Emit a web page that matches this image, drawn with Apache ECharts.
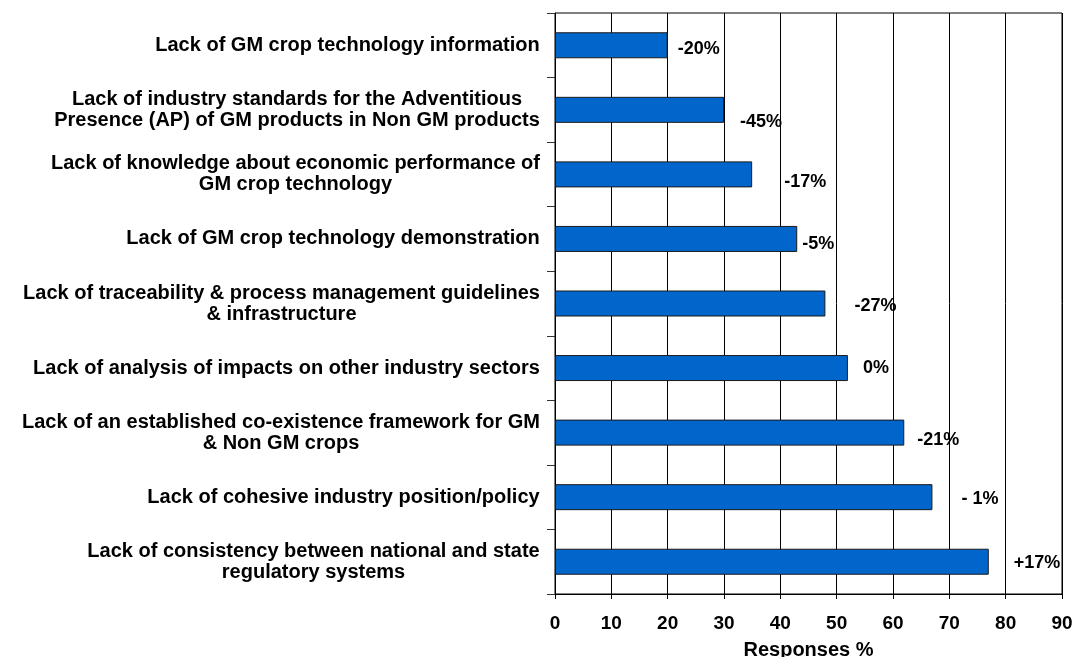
<!DOCTYPE html>
<html>
<head>
<meta charset="utf-8">
<script src="https://cdn.jsdelivr.net/npm/echarts@6/dist/echarts.min.js"></script>
<style>
	html, body { margin: 0; padding: 0; background: #fff; }
	#chart { width: 1075px; height: 657px; }
</style>
</head>
<body>
<div id="chart"></div>
<script>
var categories = [
	'Lack of GM crop technology information',
	'Lack of industry standards for the Adventitious\nPresence (AP) of GM products in Non GM products',
	'Lack of knowledge about economic performance of\nGM crop technology',
	'Lack of GM crop technology demonstration',
	'Lack of traceability & process management guidelines\n& infrastructure',
	'Lack of analysis of impacts on other industry sectors',
	'Lack of an established co-existence framework for GM\n& Non GM crops',
	'Lack of cohesive industry position/policy',
	'Lack of consistency between national and state\nregulatory systems'
];
var responses = [20, 30, 35, 43, 48, 52, 62, 67, 77];
var changes = ['-20%', '-45%', '-17%', '-5%', '-27%', '0%', '-21%', '- 1%', '+17%'];
var xTicks = [0, 10, 20, 30, 40, 50, 60, 70, 80, 90];

var FONT = '"Liberation Sans", Arial, sans-serif';
var catSize = 20;

// label nudges, as placed in the original
var labelOffsets = [[10, 4], [16, 12], [32, 8], [5, 5], [29, 3], [15, 0], [13, 7], [29, 2], [25, 1]];

// centre every line of a wrapped category inside its own block
var ctx = document.createElement('canvas').getContext('2d');
ctx.font = 'bold ' + catSize + 'px ' + FONT;
var rich = {};
categories.forEach(function(c, i){
	var w = 0;
	c.split('\n').forEach(function(line){
		w = Math.max(w, ctx.measureText(line).width);
	});
	rich['c' + i] = {
		width: Math.ceil(w),
		align: 'center',
		fontSize: catSize,
		fontWeight: 'bold',
		fontFamily: FONT,
		color: '#000',
		lineHeight: 21
	};
});

var chart = echarts.init(document.getElementById('chart'));

chart.setOption({
	animation: false,
	backgroundColor: '#fff',
	grid: {
		left: 555,
		right: 13,
		top: 13,
		bottom: 63,
		outerBoundsMode: 'none',
		containLabel: false,
		show: true,
		borderColor: '#000',
		borderWidth: 1
	},
	xAxis: {
		type: 'value',
		min: xTicks[0],
		max: xTicks[xTicks.length - 1],
		interval: 10,
		name: 'Responses %',
		nameLocation: 'middle',
		nameGap: 46,
		nameTextStyle: { fontFamily: FONT, fontSize: 20, fontWeight: 'bold', color: '#000' },
		axisLine: { show: true, lineStyle: { color: '#000', width: 1 } },
		axisTick: { show: true, length: 5, lineStyle: { color: '#000' } },
		axisLabel: { fontFamily: FONT, fontSize: 19, fontWeight: 'bold', color: '#000', margin: 20 },
		splitLine: { show: true, lineStyle: { color: '#000', width: 1 } }
	},
	yAxis: {
		type: 'category',
		data: categories,
		inverse: true,
		axisLine: { show: true, lineStyle: { color: '#000', width: 1 } },
		axisTick: { show: true, length: 8, lineStyle: { color: '#333' } },
		axisLabel: {
			margin: 15,
			align: 'right',
			interval: 0,
			formatter: function(val, idx){
				return val.split('\n').map(function(line){
					return '{c' + idx + '|' + line + '}';
				}).join('\n');
			},
			rich: rich
		},
		splitLine: { show: false }
	},
	series: [{
		type: 'bar',
		data: responses,
		barWidth: 26,
		itemStyle: { color: '#0066CC', borderColor: '#1a1a1a', borderWidth: 1 },
		label: {
			show: true,
			position: 'right',
			distance: 0,
			fontFamily: FONT,
			fontSize: 18,
			fontWeight: 'bold',
			color: '#000',
			formatter: function(p){ return changes[p.dataIndex]; }
		},
		labelLayout: function(p){
			var o = labelOffsets[p.dataIndex];
			return { dx: o[0], dy: o[1] };
		}
	}]
});
</script>
</body>
</html>
